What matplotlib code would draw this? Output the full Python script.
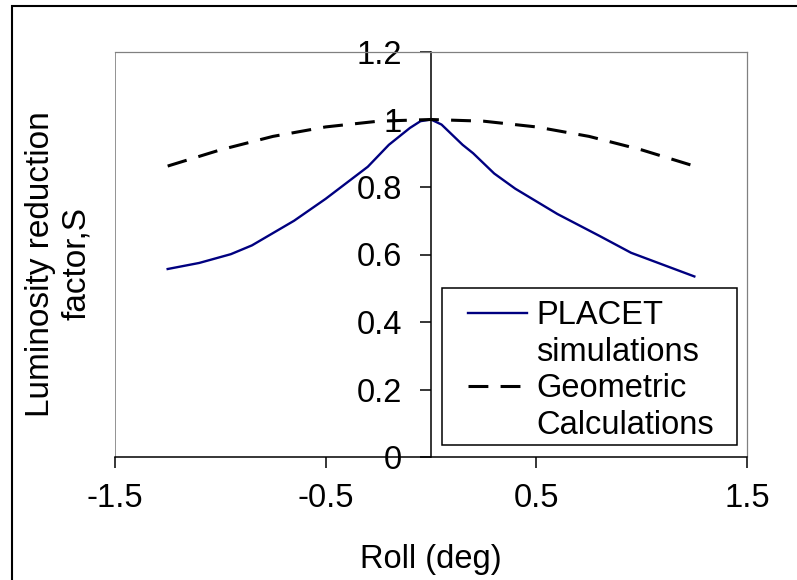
import matplotlib
matplotlib.use("Agg")
import matplotlib.pyplot as plt
from matplotlib.lines import Line2D
from matplotlib.patches import Rectangle

plt.rcParams['font.family'] = ['Liberation Sans', 'DejaVu Sans']

# Data
placet_x = [-1.25, -1.1, -0.95, -0.85, -0.65, -0.5, -0.3, -0.2, -0.1, -0.05, 0.0,
            0.05, 0.15, 0.2, 0.3, 0.4, 0.6, 0.8, 0.95, 1.25]
placet_y = [0.557, 0.575, 0.601, 0.627, 0.70, 0.765, 0.86, 0.925, 0.975, 0.995, 1.0,
            0.985, 0.925, 0.90, 0.84, 0.795, 0.72, 0.655, 0.605, 0.535]
geo_x = [-1.25, -1.0, -0.75, -0.5, -0.25, 0.0, 0.25, 0.5, 0.75, 1.0, 1.25]
geo_y = [0.862, 0.91, 0.95, 0.978, 0.995, 1.0, 0.995, 0.978, 0.95, 0.91, 0.862]
x_ticks = [-1.5, -0.5, 0.5, 1.5]
x_ticklabels = ["-1.5", "-0.5", "0.5", "1.5"]
y_ticks = [0, 0.2, 0.4, 0.6, 0.8, 1.0, 1.2]
y_ticklabels = ["0", "0.2", "0.4", "0.6", "0.8", "1", "1.2"]
legend_labels = ["PLACET", "simulations", "Geometric", "Calculations"]

FS = 23.5
W, H = 797, 580
AX_L, AX_R, AX_T, AX_B = 115, 747, 52, 457
fig = plt.figure(figsize=(W / 100, H / 100), dpi=100)
ax = fig.add_axes([AX_L / W, 1 - AX_B / H, (AX_R - AX_L) / W, (AX_B - AX_T) / H])


def axfrac(px, py):
    return ((px - AX_L) / (AX_R - AX_L), (AX_B - py) / (AX_B - AX_T))


ax.plot(placet_x, placet_y, color='#000080', lw=1.7, solid_joinstyle='round')
ax.plot(geo_x, geo_y, color='black', lw=2.2, dashes=(6.5, 4))

ax.set_xlim(-1.5, 1.5)
ax.set_ylim(0, 1.2)

# spines
for s in ['top', 'right']:
    ax.spines[s].set_color('#808080')
    ax.spines[s].set_linewidth(0.9)
ax.spines['bottom'].set_color('black')
ax.spines['bottom'].set_linewidth(1.1)
ax.spines['left'].set_position(('data', 0))
ax.spines['left'].set_color('black')
ax.spines['left'].set_linewidth(1.1)
ax.axvline(-1.5, color='#808080', lw=1.2, zorder=0)

ax.set_xticks(x_ticks)
ax.set_xticklabels(x_ticklabels)
ax.set_yticks(y_ticks)
ax.set_yticklabels(y_ticklabels)
ax.tick_params(axis='both', direction='out', length=8, width=1.1, labelsize=FS)
ax.tick_params(axis='x', pad=11)
ax.tick_params(axis='y', pad=13)

ax.set_xlabel("Roll (deg)", fontsize=FS, labelpad=21)
fig.text(58.5 / W, 1 - 264 / H, "Luminosity reduction\nfactor,S", rotation=90,
         ha='center', va='center', fontsize=24, multialignment='center',
         linespacing=1.2)

# legend: frame drawn separately, content via ax.legend
x0, y0 = axfrac(442, 445)
x1, y1 = axfrac(737, 288)
ax.add_patch(Rectangle((x0, y0), x1 - x0, y1 - y0, transform=ax.transAxes,
                       facecolor='white', edgecolor='black', lw=1.1, zorder=4))
handles = [Line2D([], [], color='#000080', lw=1.7),
           Line2D([], [], color='none'),
           Line2D([], [], color='black', lw=2.2, dashes=(6.5, 4)),
           Line2D([], [], color='none')]
leg = ax.legend(handles, legend_labels, loc='upper left',
                bbox_to_anchor=axfrac(468, 300),
                borderaxespad=0, borderpad=0, fontsize=FS, frameon=False,
                handlelength=1.8, handletextpad=0.3, labelspacing=0.17)
leg.set_zorder(5)

# outer chart border (cropped at right/bottom)
fig.patches.append(Rectangle((12 / W, -0.05), 1.1, 1 - 6 / H + 0.05,
                             transform=fig.transFigure, fill=False,
                             edgecolor='black', lw=1.5))

fig.savefig("out.png", dpi=100)
